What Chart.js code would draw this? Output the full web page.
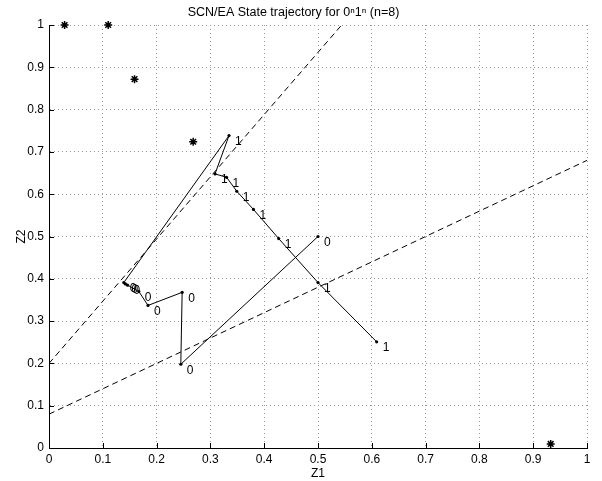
<!DOCTYPE html>
<html>
<head>
<meta charset="utf-8">
<script src="https://cdn.jsdelivr.net/npm/chart.js@4.4.0/dist/chart.umd.min.js"></script>
<style>
  html, body { margin: 0; padding: 0; background: #fff; }
  #wrap { width: 602px; height: 481px; }
</style>
</head>
<body>
<div id="wrap"><canvas id="chart" width="602" height="481"></canvas></div>
<script>
// state trajectory (first 8 steps input 0, last 8 input 1)
var trajX = [0.5, 0.245, 0.2475, 0.184, 0.167, 0.146, 0.142, 0.139,
             0.3346, 0.3086, 0.330, 0.349, 0.380, 0.427, 0.5, 0.609];
var trajY = [0.5, 0.198, 0.368, 0.337, 0.370, 0.385, 0.388, 0.391,
             0.7385, 0.648, 0.640, 0.607, 0.564, 0.495, 0.391, 0.251];
var trajLabels = ['0', '0', '0', '0', '0', '0', '0', '0',
                  '1', '1', '1', '1', '1', '1', '1', '1'];

// star markers
var starX = [0.029, 0.11, 0.159, 0.268, 0.9325];
var starY = [1.0, 1.0, 0.872, 0.724, 0.0095];

// dashed boundary lines
var line1X = [0, 0.544];
var line1Y = [0.2, 1.0];
var line2X = [0, 1];
var line2Y = [0.08, 0.68];

var tickVals = [0, 0.1, 0.2, 0.3, 0.4, 0.5, 0.6, 0.7, 0.8, 0.9, 1];

function pts(xs, ys) {
    return xs.map(function (x, i) { return { x: x, y: ys[i] }; });
}

var FONT = 'Liberation Sans, Arial, Helvetica, sans-serif';

// point labels "0"/"1" next to trajectory points
var pointLabels = {
    id: 'pointLabels',
    afterDatasetsDraw: function (chart) {
        var meta = chart.getDatasetMeta(0);
        var ctx = chart.ctx;
        ctx.save();
        ctx.font = '12px ' + FONT;
        ctx.fillStyle = '#000';
        ctx.textAlign = 'left';
        ctx.textBaseline = 'middle';
        meta.data.forEach(function (el, i) {
            ctx.fillText(trajLabels[i], el.x + 6, el.y + 6);
        });
        ctx.restore();
    }
};

// matlab style inward ticks
var inTicks = {
    id: 'inTicks',
    afterDraw: function (chart) {
        var ctx = chart.ctx, a = chart.chartArea;
        var xs = chart.scales.x, ys = chart.scales.y;
        ctx.save();
        ctx.strokeStyle = '#000';
        ctx.lineWidth = 1;
        ctx.beginPath();
        tickVals.forEach(function (v) {
            var px = Math.round(xs.getPixelForValue(v)) + 0.5;
            ctx.moveTo(px, a.bottom);
            ctx.lineTo(px, a.bottom - 5);
            var py = Math.round(ys.getPixelForValue(v)) + 0.5;
            ctx.moveTo(a.left, py);
            ctx.lineTo(a.left + 5, py);
        });
        ctx.stroke();
        ctx.restore();
    }
};

var ctx = document.getElementById('chart').getContext('2d');
var myChart = new Chart(ctx, {
    type: 'scatter',
    data: {
        datasets: [{
            label: 'trajectory',
            data: pts(trajX, trajY),
            showLine: true,
            borderColor: '#000',
            backgroundColor: '#000',
            borderWidth: 1,
            pointRadius: 1.6,
            pointBorderWidth: 0,
            tension: 0
        },
        {
            label: 'stars',
            data: pts(starX, starY),
            pointStyle: 'star',
            pointRadius: 4,
            borderColor: '#000',
            backgroundColor: '#000',
            pointBorderWidth: 1.5,
            clip: false
        },
        {
            label: 'line1',
            data: pts(line1X, line1Y),
            showLine: true,
            borderColor: '#000',
            borderWidth: 1,
            borderDash: [6, 4],
            pointRadius: 0
        },
        {
            label: 'line2',
            data: pts(line2X, line2Y),
            showLine: true,
            borderColor: '#000',
            borderWidth: 1,
            borderDash: [6, 4],
            pointRadius: 0
        }]
    },
    options: {
        responsive: false,
        animation: false,
        events: [],
        layout: { padding: { right: 15, left: 0, top: 0, bottom: 0 } },
        plugins: {
            legend: { display: false },
            tooltip: { enabled: false },
            title: {
                display: true,
                text: 'SCN/EA State trajectory for 0\u207F1\u207F (n=8)',
                color: '#000',
                font: { family: FONT, size: 12.5, weight: 'normal', lineHeight: 1.2 },
                padding: { top: 5, bottom: 5 }
            }
        },
        scales: {
            x: {
                type: 'linear',
                min: 0,
                max: 1,
                afterBuildTicks: function (s) { s.ticks = tickVals.map(function (v) { return { value: v }; }); },
                afterFit: function (s) { s.height = 33; },
                ticks: {
                    color: '#000',
                    padding: 4,
                    maxRotation: 0,
                    font: { family: FONT, size: 12 },
                    callback: function (v) { return String(Number(v.toFixed(1))); }
                },
                grid: {
                    color: '#999',
                    drawTicks: false
                },
                border: { display: true, color: '#000', width: 1, dash: [1, 3] },
                title: {
                    display: true,
                    text: 'Z1',
                    color: '#000',
                    font: { family: FONT, size: 12 },
                    padding: { top: 0, bottom: 0 }
                }
            },
            y: {
                type: 'linear',
                min: 0,
                max: 1,
                afterBuildTicks: function (s) { s.ticks = tickVals.map(function (v) { return { value: v }; }); },
                afterFit: function (s) { s.width = 49; },
                ticks: {
                    color: '#000',
                    padding: 5,
                    font: { family: FONT, size: 12 },
                    callback: function (v) { return String(Number(v.toFixed(1))); }
                },
                grid: {
                    color: '#999',
                    drawTicks: false
                },
                border: { display: true, color: '#000', width: 1, dash: [1, 3] },
                title: {
                    display: true,
                    text: 'Z2',
                    color: '#000',
                    font: { family: FONT, size: 12 },
                    padding: { top: 14, bottom: 0 }
                }
            }
        }
    },
    plugins: [pointLabels, inTicks]
});
</script>
</body>
</html>
